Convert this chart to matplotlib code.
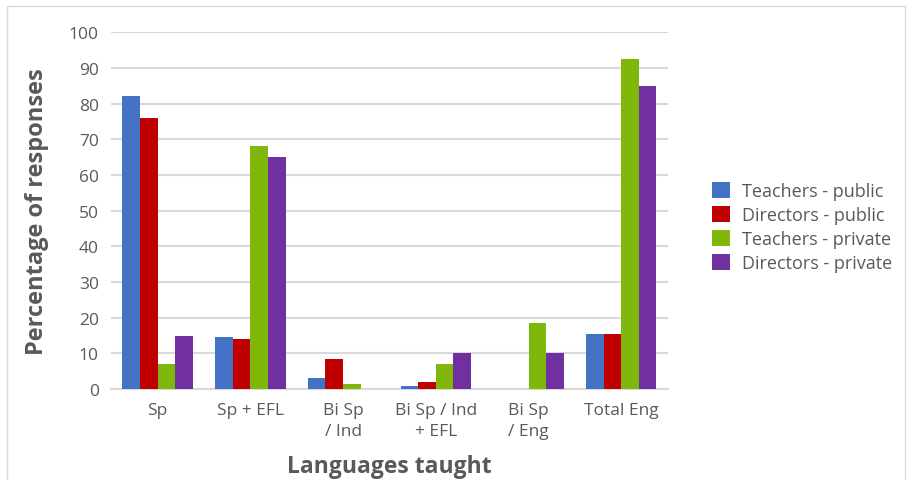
import matplotlib.pyplot as plt
import numpy as np

plt.rcParams['font.family'] = ['Open Sans', 'DejaVu Sans']

# Data
categories = ['Sp', 'Sp + EFL', 'Bi Sp\n/ Ind', 'Bi Sp / Ind\n+ EFL', 'Bi Sp\n/ Eng', 'Total Eng']
series_names = ['Teachers - public', 'Directors - public', 'Teachers - private', 'Directors - private']
teachers_public = [82, 14.5, 3.2, 0.9, 0, 15.5]
directors_public = [76, 14, 8.5, 2, 0, 15.5]
teachers_private = [7, 68, 1.5, 7, 18.5, 92.5]
directors_private = [15, 65, 0, 10, 10, 85]
colors = ['#4472C4', '#C00000', '#7FB70A', '#7030A0']

fig = plt.figure(figsize=(9.12, 4.81), dpi=100)
ax = fig.add_axes([0.122, 0.189, 0.61, 0.742])

x = np.arange(len(categories))
w = 0.19
all_series = [teachers_public, directors_public, teachers_private, directors_private]
for i, (vals, name, c) in enumerate(zip(all_series, series_names, colors)):
    ax.bar(x + (i - 1.5) * w, vals, width=w, color=c, label=name, zorder=3)

ax.set_ylim(0, 100)
ax.set_yticks(np.arange(0, 101, 10))
ax.set_xlim(-0.5, len(categories) - 0.5)
ax.set_xticks(x)
ax.set_xticklabels(categories, linespacing=1.45)
ax.grid(axis='y', color='#d9d9d9', linewidth=1.5, zorder=0)
for s in ['top', 'right', 'left']:
    ax.spines[s].set_visible(False)
ax.spines['bottom'].set_color('#d9d9d9')
ax.spines['bottom'].set_linewidth(1.5)
ax.tick_params(length=0, labelsize=12.5, colors='#595959', pad=9)

ax.set_ylabel('Percentage of responses', fontsize=17, fontweight='bold', color='#595959', labelpad=14)
ax.set_xlabel('Languages taught', fontsize=16.5, fontweight='bold', color='#595959', labelpad=11)

ax.legend(loc='center left', bbox_to_anchor=(1.05, 0.455), frameon=False, fontsize=13,
          labelcolor='#595959', handlelength=1.0, handleheight=1.0, labelspacing=0.32,
          handletextpad=0.7)

fig.patches.append(plt.Rectangle((0.008, -0.01), 0.984, 0.995, transform=fig.transFigure,
                                 fill=False, edgecolor='#d9d9d9', linewidth=1))

fig.savefig('out.png', dpi=100)
